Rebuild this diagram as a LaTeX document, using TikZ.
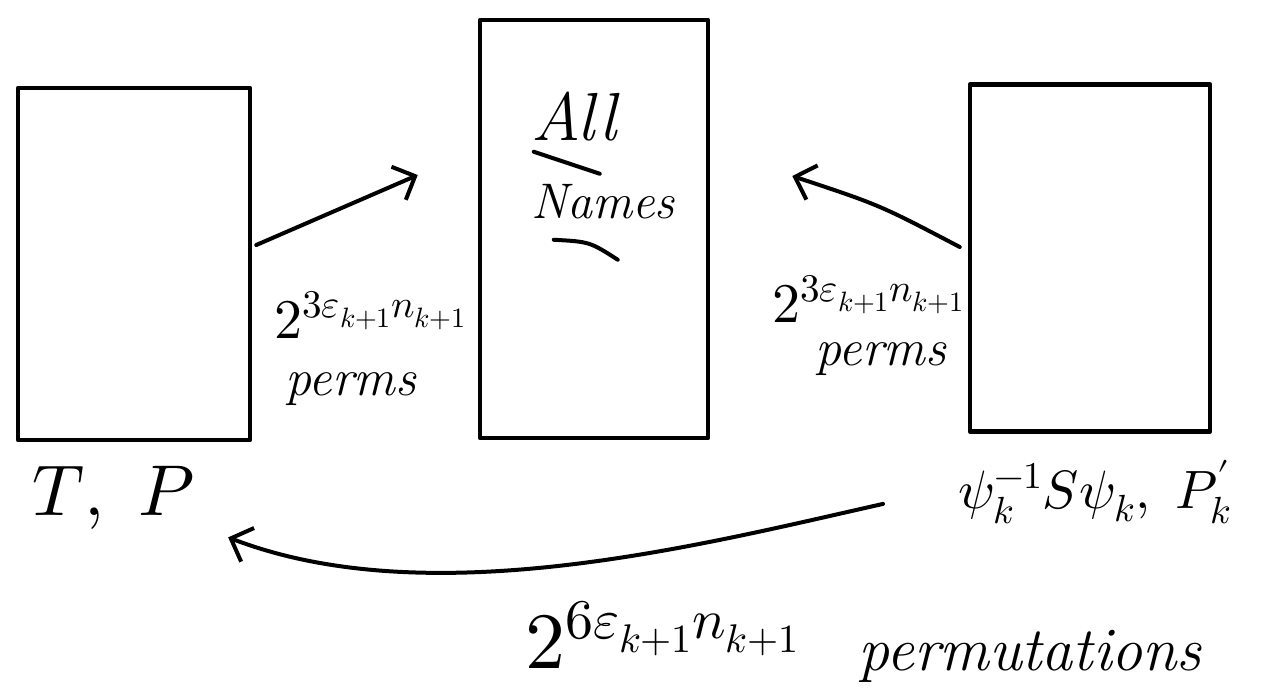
\documentclass[tikz,border=0pt]{standalone}
\usepackage{unicode-math}
\usetikzlibrary{arrows.meta,calc}
\begin{document}
\begin{tikzpicture}[x=1pt,y=-1pt,
  panel/.style={draw, line width=4.5pt, line join=round},
  ink/.style={line width=4pt, line cap=round},
  arr/.style={ink, -{Straight Barb[length=18pt,width=36pt,line width=4pt]}},
  lbl/.style={inner sep=0pt},
  big/.style={font=\fontsize{56}{62}\selectfont},
  mid/.style={font=\fontsize{52}{58}\selectfont\itshape}]
\useasboundingbox (0,0) rectangle (1265,697);

% the three sets
\node[panel, minimum width=232pt, minimum height=352pt] (L) at (134,264) {};
\node[panel, minimum width=228pt, minimum height=418pt] (M) at (594,229) {};
\node[panel, minimum width=240pt, minimum height=347pt] (R) at (1090,258) {};

% title of the middle set
\node[lbl, font=\fontsize{68}{74}\selectfont\itshape, anchor=base] (all) at (574,140) {All};
\node[lbl, font=\fontsize{50}{56}\selectfont\itshape, anchor=base] (names) at (603,218) {Names};
\draw[ink] ($(M.north west)+(56,134)$) -- ($(M.north west)+(122,156)$);
\draw[ink] ($(M.north west)+(76,222)$) .. controls ($(M.north west)+(112,224)$) .. ($(M.north west)+(140,242)$);

% arrows into the middle set
\coordinate (a1s) at ($(L.east)+(4,-19)$);
\coordinate (a1e) at ($(M.west)+(-60,-54)$);
\draw[arr] (a1s) -- (a1e);
\coordinate (a2s) at ($(R.west)+(-8,-11)$);
\coordinate (a2e) at ($(M.east)+(82,-53)$);
\draw[arr] (a2s) .. controls ($(a2s)+(-80,-42)$) .. (a2e);

% counts on the arrows
\node[lbl, big, anchor=base west] (c1) at (274,338) {$2^{3\varepsilon_{k+1}n_{k+1}}$};
\node[lbl, mid, anchor=base west] (p1) at (285,395) {perms};
\node[lbl, big, anchor=base west] (c2) at (772,322) {$2^{3\varepsilon_{k+1}n_{k+1}}$};
\node[lbl, mid, anchor=base west] (p2) at (815,365) {perms};

% labels under the outer sets
\node[lbl, font=\fontsize{72}{78}\selectfont, anchor=base west] (tp) at (32,515) {$T,\ P$};
\node[lbl, font=\fontsize{54}{60}\selectfont, anchor=base west] (rl) at (958,508) {$\psi_k^{-1}S\psi_k,\ P'_k$};

% the long arrow back to the left set
\coordinate (bs) at ($(rl.west)+(-75,12)$);
\coordinate (be) at ($(tp.east)+(33,40)$);
\draw[arr] (bs) .. controls (700,545) and (430,615) .. (be);

\node[lbl, font=\fontsize{80}{88}\selectfont, anchor=base west] (c3) at (525,668) {$2^{6\varepsilon_{k+1}n_{k+1}}$};
\node[lbl, font=\fontsize{62}{68}\selectfont\itshape, anchor=base west] (perm) at (858,670) {permutations};
\end{tikzpicture}
\end{document}
